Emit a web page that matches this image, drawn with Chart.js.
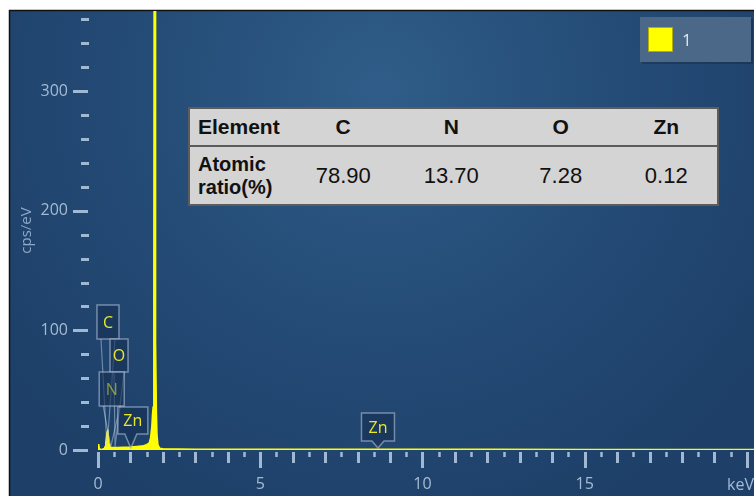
<!DOCTYPE html>
<html>
<head>
<meta charset="utf-8">
<script src="https://cdn.jsdelivr.net/npm/chart.js@4/dist/chart.umd.min.js"></script>
<style>
  html, body { margin: 0; padding: 0; background: #ffffff; }
  #wrap { position: relative; width: 754px; height: 496px; overflow: hidden; }
  #spectrum { position: absolute; left: 0; top: 0; }
  #ratioTable {
    position: absolute; left: 188px; top: 107px;
    border-collapse: collapse; width: 531px; height: 99px;
    background: #d4d4d4; color: #111;
    font-family: "Liberation Sans", Arial, sans-serif;
    border: 2px solid #5c5c5c;
  }
  #ratioTable th { font-weight: bold; font-size: 21px; height: 36px; padding: 0; text-align: center;
    border-bottom: 2px solid #5c5c5c; }
  #ratioTable td { font-size: 22px; padding: 0; text-align: center; }
  #ratioTable .rowhead { text-align: left; padding-left: 8px; font-weight: bold; }
  #ratioTable td.rowhead { font-size: 20px; line-height: 23px; }
</style>
</head>
<body>
<div id="wrap">
  <canvas id="spectrum" width="754" height="496"></canvas>
  <table id="ratioTable"></table>
</div>
<script>
// EDS spectrum: energy (keV) and counts (cps/eV)
const spectrumKeV = [0, 0.02, 0.04, 0.06, 0.10, 0.16, 0.20, 0.22, 0.24, 0.26, 0.28, 0.30, 0.32, 0.34,
  0.36, 0.40, 0.50, 0.60, 0.80, 1.00, 1.20, 1.40, 1.50, 1.58, 1.62, 1.66, 1.68, 1.70, 1.72, 1.73,
  1.74, 1.75, 1.76, 1.77, 1.78, 1.80, 1.82, 1.85, 1.90, 2.00, 2.50, 3.00, 4.00, 6.00, 8.00, 8.60,
  9.00, 10.00, 12.00, 15.00, 18.00, 20.30];
const spectrumCps = [0, 5, 1.5, 0.6, 0.5, 0.8, 1.5, 3, 6, 11, 15, 17, 11, 5,
  3, 2, 2, 2, 2.2, 2.5, 3, 3.6, 4.5, 6, 10, 20, 30, 36, 120, 400,
  900, 1500, 900, 300, 90, 32, 12, 4, 1.5, 1, 0.8, 0.7, 0.6, 0.6, 0.6, 0.7,
  0.6, 0.6, 0.6, 0.5, 0.5, 0.5];
const seriesName = '1';

// axis ticks
const xTickValues = [0, 5, 10, 15, 20];
const yTickValues = [0, 100, 200, 300];

// identified peaks
const peakLabels = ['C', 'N', 'O', 'Zn', 'Zn'];
const peakKeV = [0.277, 0.392, 0.525, 1.012, 8.630];

// quantification table
const tableElements = ['C', 'N', 'O', 'Zn'];
const atomicRatio = ['78.90', '13.70', '7.28', '0.12'];

const LABEL_COLOR = '#a6bbd3';
const TICK_COLOR = 'rgba(172,194,220,0.92)';
const YELLOW = '#ffff00';

// build the table
(function () {
  const t = document.getElementById('ratioTable');
  const widths = [101, 107, 110, 110, 103];
  const cg = document.createElement('colgroup');
  widths.forEach(w => { const c = document.createElement('col'); c.style.width = w + 'px'; cg.appendChild(c); });
  t.appendChild(cg);
  const r1 = t.insertRow();
  const h0 = document.createElement('th'); h0.className = 'rowhead'; h0.textContent = 'Element'; r1.appendChild(h0);
  tableElements.forEach(e => { const th = document.createElement('th'); th.textContent = e; r1.appendChild(th); });
  const r2 = t.insertRow();
  const c0 = r2.insertCell(); c0.className = 'rowhead'; c0.innerHTML = 'Atomic<br>ratio(%)';
  atomicRatio.forEach(v => { const td = r2.insertCell(); td.textContent = v; });
})();

// frame and background glow
const backdrop = {
  id: 'backdrop',
  beforeDraw(chart) {
    const ctx = chart.ctx;
    ctx.save();
    ctx.fillStyle = '#ffffff';
    ctx.fillRect(0, 0, chart.width, chart.height);
    const g = ctx.createRadialGradient(380, 90, 10, 380, 90, 470);
    g.addColorStop(0, 'rgb(47,92,136)');
    g.addColorStop(0.45, 'rgb(37,77,120)');
    g.addColorStop(1, 'rgb(29,63,104)');
    ctx.fillStyle = g;
    ctx.fillRect(10, 11, chart.width - 10, chart.height - 11);
    ctx.strokeStyle = '#111';
    ctx.lineWidth = 1.5;
    ctx.beginPath();
    ctx.moveTo(9.5, chart.height); ctx.lineTo(9.5, 10.5); ctx.lineTo(chart.width, 10.5);
    ctx.stroke();
    ctx.restore();
  }
};

// tick marks: y every 20, x every 0.5 keV
const tickMarks = {
  id: 'tickMarks',
  afterDraw(chart) {
    const ctx = chart.ctx, xs = chart.scales.x, ys = chart.scales.y;
    ctx.save();
    ctx.strokeStyle = TICK_COLOR;
    ctx.lineCap = 'butt';
    ctx.lineWidth = 3;
    for (let v = 0; v <= ys.max; v += 20) {
      const y = Math.round(ys.getPixelForValue(v)) + 0.5;
      ctx.beginPath();
      if (v % 100 === 0) { ctx.moveTo(73, y); ctx.lineTo(88, y); }
      else { ctx.moveTo(81, y); ctx.lineTo(89, y); }
      ctx.stroke();
    }
    const base = ys.getPixelForValue(0);
    for (let k = 0; k <= 40; k++) {
      const v = k / 2;
      const x = Math.round(xs.getPixelForValue(v)) + 0.5;
      let len, w;
      if (k % 10 === 0) { len = 16; w = 3; }
      else if (k % 2 === 0) { len = 11; w = 3; }
      else { len = 5; w = 2.5; }
      ctx.lineWidth = w;
      ctx.beginPath();
      ctx.moveTo(x, base + 2); ctx.lineTo(x, base + 2 + len);
      ctx.stroke();
    }
    ctx.restore();
  }
};

// peak identification callouts
const calloutLayout = [
  { dx: 1, top: 305, w: 22, h: 34, pointer: false, alpha: 1 },
  { dx: 1, top: 372, w: 25, h: 34, pointer: false, alpha: 0.55 },
  { dx: 4, top: 339, w: 18, h: 33, pointer: false, alpha: 1 },
  { dx: 2, top: 407, w: 30, h: 27, pointer: true, alpha: 1 },
  { dx: 0, top: 413, w: 33, h: 28, pointer: true, alpha: 1 }
];
const drawOrder = [0, 2, 1, 3, 4];
const callouts = {
  id: 'callouts',
  afterDatasetsDraw(chart) {
    const ctx = chart.ctx, xs = chart.scales.x, ys = chart.scales.y;
    const base = ys.getPixelForValue(0);
    ctx.save();
    drawOrder.forEach(i => {
      const L = calloutLayout[i];
      const px = xs.getPixelForValue(peakKeV[i]);
      const cx = px + L.dx;
      const x0 = cx - L.w / 2, x1 = cx + L.w / 2, y0 = L.top, y1 = L.top + L.h;
      if (!L.pointer) {
        ctx.strokeStyle = 'rgba(190,205,225,0.5)';
        ctx.lineWidth = 1.2;
        ctx.beginPath();
        ctx.moveTo(x0 + 4, y1); ctx.lineTo(px, base - 3);
        ctx.moveTo(x1 - 4, y1); ctx.lineTo(px, base - 3);
        ctx.stroke();
      }
      ctx.beginPath();
      ctx.moveTo(x0, y0); ctx.lineTo(x1, y0); ctx.lineTo(x1, y1);
      if (L.pointer) {
        ctx.lineTo(px + 6, y1); ctx.lineTo(px, base - 2); ctx.lineTo(px - 6, y1);
      }
      ctx.lineTo(x0, y1); ctx.closePath();
      ctx.fillStyle = 'rgba(22,46,82,0.62)';
      ctx.fill();
      ctx.strokeStyle = 'rgba(175,192,215,0.6)';
      ctx.lineWidth = 1.5;
      ctx.stroke();
      ctx.globalAlpha = L.alpha;
      ctx.fillStyle = '#e8e825';
      ctx.font = '16px "Open Sans"';
      ctx.textAlign = 'center';
      ctx.textBaseline = 'middle';
      ctx.fillText(peakLabels[i], cx, (y0 + y1) / 2 + 1);
      ctx.globalAlpha = 1;
    });
    ctx.restore();
  }
};

// legend box in the top right corner
const legendBox = {
  id: 'legendBox',
  afterDraw(chart) {
    const ctx = chart.ctx, ds = chart.data.datasets[0];
    ctx.save();
    ctx.fillStyle = 'rgba(0,0,0,0.18)';
    ctx.fillRect(642, 19, 111, 45);
    ctx.fillStyle = '#4c6888';
    ctx.fillRect(640, 17, 111, 45);
    ctx.fillStyle = ds.backgroundColor;
    ctx.fillRect(648, 27, 25, 25);
    ctx.strokeStyle = 'rgba(120,120,0,0.6)';
    ctx.lineWidth = 1;
    ctx.strokeRect(648.5, 27.5, 24, 24);
    ctx.fillStyle = '#dfe6ef';
    ctx.font = '17px "Open Sans"';
    ctx.textAlign = 'left';
    ctx.textBaseline = 'middle';
    ctx.fillText(ds.label, 682, 41);
    ctx.restore();
  }
};

function drawChart() {
  new Chart(document.getElementById('spectrum'), {
    type: 'line',
    data: {
      datasets: [{
        label: seriesName,
        data: spectrumKeV.map((k, i) => ({ x: k, y: spectrumCps[i] })),
        borderColor: YELLOW,
        backgroundColor: YELLOW,
        borderWidth: 1.5,
        fill: 'origin',
        pointRadius: 0,
        tension: 0
      }]
    },
    options: {
      responsive: false,
      animation: false,
      devicePixelRatio: 1,
      layout: { padding: { top: 11, left: 0, right: 0, bottom: 0 } },
      plugins: { legend: { display: false }, tooltip: { enabled: false } },
      scales: {
        x: {
          type: 'linear', min: 0, max: 20.22,
          grid: { display: false, drawTicks: false },
          border: { display: false },
          afterBuildTicks: s => { s.ticks = xTickValues.map(v => ({ value: v })); },
          afterFit: s => { s.height = 46; s.paddingLeft = 0; s.paddingRight = 0; },
          ticks: {
            color: LABEL_COLOR, font: { family: 'Open Sans', size: 16 }, padding: 25,
            autoSkip: false, maxRotation: 0,
            callback: v => (v === 20 ? '' : String(v))
          },
          title: {
            display: true, text: 'keV', align: 'end', color: LABEL_COLOR,
            font: { family: 'Open Sans', size: 16 }, padding: { top: 0, bottom: 1 }
          }
        },
        y: {
          min: 0, max: 367,
          grid: { display: false, drawTicks: false },
          border: { display: false },
          afterBuildTicks: s => { s.ticks = yTickValues.map(v => ({ value: v })); },
          afterFit: s => { s.width = 98; s.paddingTop = 0; s.paddingBottom = 0; },
          ticks: { color: LABEL_COLOR, font: { family: 'Open Sans', size: 16 }, padding: 30 },
          title: {
            display: true, text: 'cps/eV', color: 'rgba(150,174,204,0.95)',
            font: { family: 'Open Sans', size: 15 }, padding: { top: 18, bottom: 0 }
          }
        }
      }
    },
    plugins: [backdrop, tickMarks, callouts, legendBox]
  });
}

Promise.all([
  document.fonts.load('16px "Open Sans"'),
  document.fonts.load('15px "Open Sans"')
]).then(drawChart, drawChart);
</script>
</body>
</html>
